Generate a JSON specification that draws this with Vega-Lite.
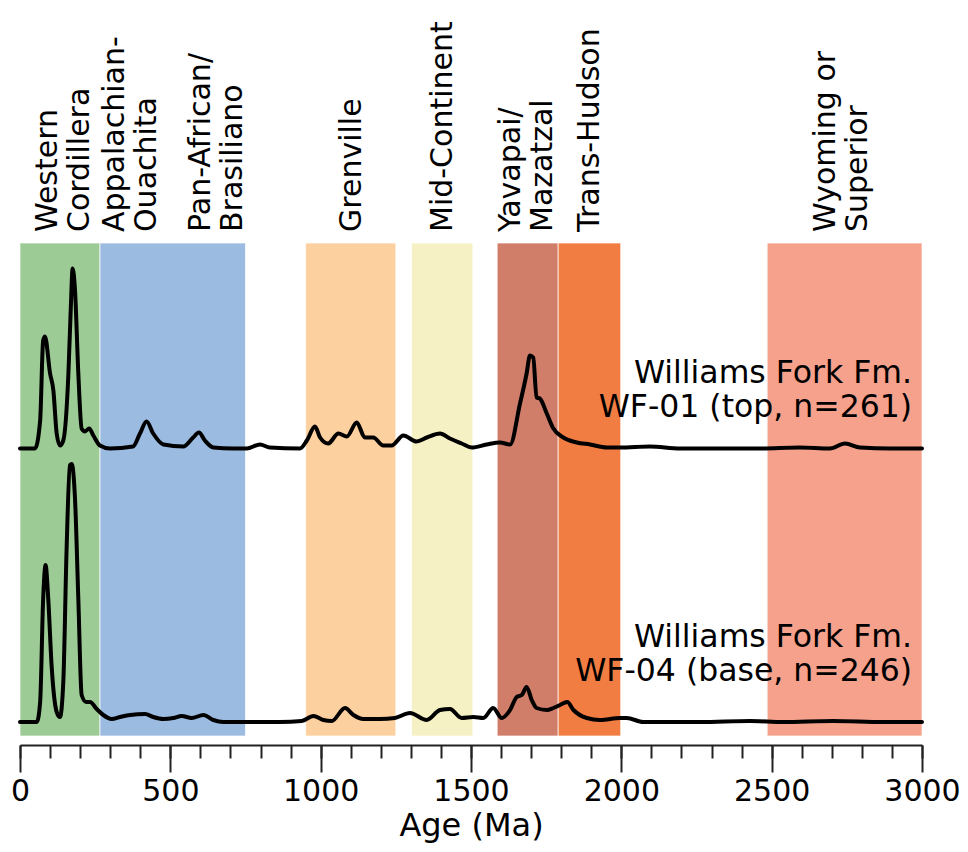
{
  "$schema": "https://vega.github.io/schema/vega-lite/v6.json",
  "width": 902,
  "height": 493,
  "autosize": "none",
  "padding": {"left": 20, "top": 243, "right": 46, "bottom": 116},
  "background": "white",
  "config": {"view": {"stroke": null}, "font": "DejaVu Sans"},
  "datasets": {
    "bands": [
      {"name": "Western Cordillera", "start": 0, "end": 266},
      {"name": "Appalachian-Ouachita / Pan-African", "start": 266, "end": 750},
      {"name": "Grenville", "start": 950, "end": 1250},
      {"name": "Mid-Continent", "start": 1302, "end": 1506},
      {"name": "Yavapai/Mazatzal", "start": 1587, "end": 1790},
      {"name": "Trans-Hudson", "start": 1790, "end": 1998},
      {"name": "Wyoming or Superior", "start": 2485, "end": 3000}
    ],
    "labels": [
      {"label": "Western\nCordillera", "pos": 92},
      {"label": "Appalachian-\nOuachita", "pos": 316},
      {"label": "Pan-African/\nBrasiliano", "pos": 602},
      {"label": "Grenville", "pos": 1104},
      {"label": "Mid-Continent", "pos": 1407},
      {"label": "Yavapai/\nMazatzal", "pos": 1634},
      {"label": "Trans-Hudson", "pos": 1895},
      {"label": "Wyoming or\nSuperior", "pos": 2682}
    ],
    "wf01": [
      {"age": 0, "density": 0}, {"age": 50, "density": 0}, {"age": 67, "density": 28}, {"age": 77, "density": 108},
      {"age": 83, "density": 112}, {"age": 100, "density": 75}, {"age": 111, "density": 58}, {"age": 122, "density": 15},
      {"age": 133, "density": 3}, {"age": 144, "density": 8}, {"age": 161, "density": 75}, {"age": 169, "density": 141},
      {"age": 175, "density": 180}, {"age": 183, "density": 158}, {"age": 194, "density": 75}, {"age": 205, "density": 20},
      {"age": 216, "density": 17}, {"age": 230, "density": 20}, {"age": 244, "density": 13}, {"age": 266, "density": 3},
      {"age": 299, "density": 0}, {"age": 376, "density": 2}, {"age": 399, "density": 15}, {"age": 421, "density": 27},
      {"age": 443, "density": 15}, {"age": 477, "density": 4}, {"age": 543, "density": 2}, {"age": 576, "density": 11},
      {"age": 595, "density": 16}, {"age": 615, "density": 8}, {"age": 643, "density": 1}, {"age": 708, "density": 0},
      {"age": 754, "density": 0}, {"age": 798, "density": 4}, {"age": 831, "density": 1}, {"age": 931, "density": 0},
      {"age": 954, "density": 8}, {"age": 981, "density": 22}, {"age": 998, "density": 11}, {"age": 1025, "density": 5},
      {"age": 1059, "density": 15}, {"age": 1087, "density": 12}, {"age": 1120, "density": 26}, {"age": 1147, "density": 11},
      {"age": 1175, "density": 11}, {"age": 1208, "density": 3}, {"age": 1236, "density": 3}, {"age": 1275, "density": 13},
      {"age": 1319, "density": 7}, {"age": 1353, "density": 11}, {"age": 1397, "density": 15}, {"age": 1430, "density": 10},
      {"age": 1469, "density": 5}, {"age": 1502, "density": 1}, {"age": 1552, "density": 4}, {"age": 1596, "density": 6},
      {"age": 1630, "density": 4}, {"age": 1663, "density": 45}, {"age": 1685, "density": 75}, {"age": 1696, "density": 93},
      {"age": 1707, "density": 91}, {"age": 1718, "density": 51}, {"age": 1729, "density": 50}, {"age": 1752, "density": 35},
      {"age": 1774, "density": 20}, {"age": 1807, "density": 11}, {"age": 1852, "density": 6}, {"age": 1896, "density": 4},
      {"age": 1951, "density": 1}, {"age": 1996, "density": 1}, {"age": 2095, "density": 2}, {"age": 2195, "density": 0},
      {"age": 2461, "density": 0}, {"age": 2594, "density": 1}, {"age": 2694, "density": 0}, {"age": 2744, "density": 5},
      {"age": 2794, "density": 1}, {"age": 2894, "density": 0}, {"age": 3000, "density": 0}
    ],
    "wf04": [
      {"age": 0, "density": 0}, {"age": 56, "density": 0}, {"age": 67, "density": 20}, {"age": 77, "density": 123},
      {"age": 85, "density": 157}, {"age": 94, "density": 123}, {"age": 105, "density": 57}, {"age": 122, "density": 10},
      {"age": 133, "density": 5}, {"age": 144, "density": 40}, {"age": 155, "density": 173}, {"age": 166, "density": 257},
      {"age": 172, "density": 258}, {"age": 183, "density": 223}, {"age": 194, "density": 123}, {"age": 205, "density": 27},
      {"age": 220, "density": 20}, {"age": 233, "density": 20}, {"age": 255, "density": 13}, {"age": 277, "density": 7},
      {"age": 305, "density": 3}, {"age": 333, "density": 5}, {"age": 366, "density": 7}, {"age": 416, "density": 8},
      {"age": 443, "density": 5}, {"age": 477, "density": 3}, {"age": 510, "density": 4}, {"age": 538, "density": 6},
      {"age": 571, "density": 4}, {"age": 610, "density": 7}, {"age": 643, "density": 2}, {"age": 676, "density": 0},
      {"age": 865, "density": 0}, {"age": 937, "density": 1}, {"age": 976, "density": 6}, {"age": 1009, "density": 2},
      {"age": 1037, "density": 1}, {"age": 1081, "density": 14}, {"age": 1109, "density": 7}, {"age": 1142, "density": 3},
      {"age": 1197, "density": 3}, {"age": 1247, "density": 4}, {"age": 1297, "density": 9}, {"age": 1353, "density": 2},
      {"age": 1397, "density": 12}, {"age": 1430, "density": 13}, {"age": 1469, "density": 4}, {"age": 1508, "density": 5},
      {"age": 1541, "density": 4}, {"age": 1574, "density": 14}, {"age": 1602, "density": 4}, {"age": 1630, "density": 12},
      {"age": 1652, "density": 25}, {"age": 1669, "density": 27}, {"age": 1685, "density": 35}, {"age": 1702, "density": 22},
      {"age": 1718, "density": 14}, {"age": 1752, "density": 12}, {"age": 1774, "density": 14}, {"age": 1796, "density": 17},
      {"age": 1820, "density": 20}, {"age": 1841, "density": 12}, {"age": 1885, "density": 4}, {"age": 1929, "density": 2},
      {"age": 1996, "density": 4}, {"age": 2018, "density": 4}, {"age": 2073, "density": 0}, {"age": 2262, "density": 0},
      {"age": 2428, "density": 1}, {"age": 2538, "density": 0}, {"age": 2704, "density": 1}, {"age": 2870, "density": 0},
      {"age": 3000, "density": 0}
    ]
  },
  "layer": [
    {
      "data": {"name": "bands"},
      "mark": {"type": "rect", "stroke": "white", "strokeWidth": 1, "strokeOpacity": 0.7},
      "encoding": {
        "x": {
          "field": "start", "type": "quantitative",
          "scale": {"domain": [0, 3000], "nice": false, "zero": false},
          "axis": {
            "orient": "bottom",
            "values": [0,100,200,300,400,500,600,700,800,900,1000,1100,1200,1300,1400,1500,1600,1700,1800,1900,2000,2100,2200,2300,2400,2500,2600,2700,2800,2900,3000],
            "tickSize": 13, "tickWidth": 2, "tickColor": "#222", "labels": false,
            "domain": true, "domainWidth": 2, "domainColor": "#222",
            "offset": 9, "title": null, "grid": false
          }
        },
        "x2": {"field": "end"},
        "color": {
          "field": "name", "type": "nominal", "legend": null,
          "scale": {
            "domain": ["Western Cordillera", "Appalachian-Ouachita / Pan-African", "Grenville", "Mid-Continent", "Yavapai/Mazatzal", "Trans-Hudson", "Wyoming or Superior"],
            "range": ["#9dcb95", "#9bbbe1", "#fcd09f", "#f6f1c4", "#d07d6a", "#f27d42", "#f5a18b"]
          }
        }
      }
    },
    {
      "data": {"name": "labels"},
      "mark": {"type": "text", "angle": 270, "align": "left", "baseline": "middle", "fontSize": 30, "lineBreak": "\n", "lineHeight": 32, "dx": 11, "color": "black"},
      "encoding": {
        "x": {"field": "pos", "type": "quantitative", "scale": {"domain": [0, 3000], "nice": false, "zero": false}, "axis": null},
        "y": {"value": 0},
        "text": {"field": "label"}
      }
    },
    {
      "data": {"values": [{"label": "Williams Fork Fm.\nWF-01 (top, n=261)"}]},
      "mark": {"type": "text", "align": "right", "baseline": "alphabetic", "fontSize": 31.5, "lineBreak": "\n", "lineHeight": 34, "color": "black"},
      "encoding": {
        "x": {"datum": 2967, "type": "quantitative", "scale": {"domain": [0, 3000], "nice": false, "zero": false}, "axis": null},
        "y": {"datum": 65.5, "type": "quantitative", "scale": {"domain": [-287.5, 205.5], "nice": false, "zero": false}, "axis": null},
        "text": {"field": "label"}
      }
    },
    {
      "data": {"values": [{"label": "Williams Fork Fm.\nWF-04 (base, n=246)"}]},
      "mark": {"type": "text", "align": "right", "baseline": "alphabetic", "fontSize": 31.5, "lineBreak": "\n", "lineHeight": 34, "color": "black"},
      "encoding": {
        "x": {"datum": 2967, "type": "quantitative", "scale": {"domain": [0, 3000], "nice": false, "zero": false}, "axis": null},
        "y": {"datum": 75.3, "type": "quantitative", "scale": {"domain": [-14, 479], "nice": false, "zero": false}, "axis": null},
        "text": {"field": "label"}
      }
    },
    {
      "data": {"name": "wf01"},
      "mark": {"type": "line", "color": "black", "strokeWidth": 4, "interpolate": "monotone", "strokeJoin": "round", "strokeCap": "round"},
      "encoding": {
        "x": {
          "field": "age", "type": "quantitative",
          "scale": {"domain": [0, 3000], "nice": false, "zero": false},
          "axis": {
            "orient": "bottom",
            "values": [0, 500, 1000, 1500, 2000, 2500, 3000], "format": "d",
            "tickSize": 27, "tickWidth": 2, "tickColor": "#222", "domain": false, "offset": 9, "grid": false,
            "labelFontSize": 30, "labelColor": "black", "labelPadding": 4, "labelFlush": false, "labelOverlap": false,
            "title": "Age (Ma)", "titleFontSize": 32, "titleFontWeight": "normal", "titleColor": "black", "titlePadding": 4
          }
        },
        "y": {"field": "density", "type": "quantitative", "scale": {"domain": [-287.5, 205.5], "nice": false, "zero": false}, "axis": null}
      }
    },
    {
      "data": {"name": "wf04"},
      "mark": {"type": "line", "color": "black", "strokeWidth": 4, "interpolate": "monotone", "strokeJoin": "round", "strokeCap": "round"},
      "encoding": {
        "x": {"field": "age", "type": "quantitative", "scale": {"domain": [0, 3000], "nice": false, "zero": false}, "axis": null},
        "y": {"field": "density", "type": "quantitative", "scale": {"domain": [-14, 479], "nice": false, "zero": false}, "axis": null}
      }
    }
  ],
  "resolve": {"scale": {"y": "independent"}, "axis": {"x": "independent"}}
}
